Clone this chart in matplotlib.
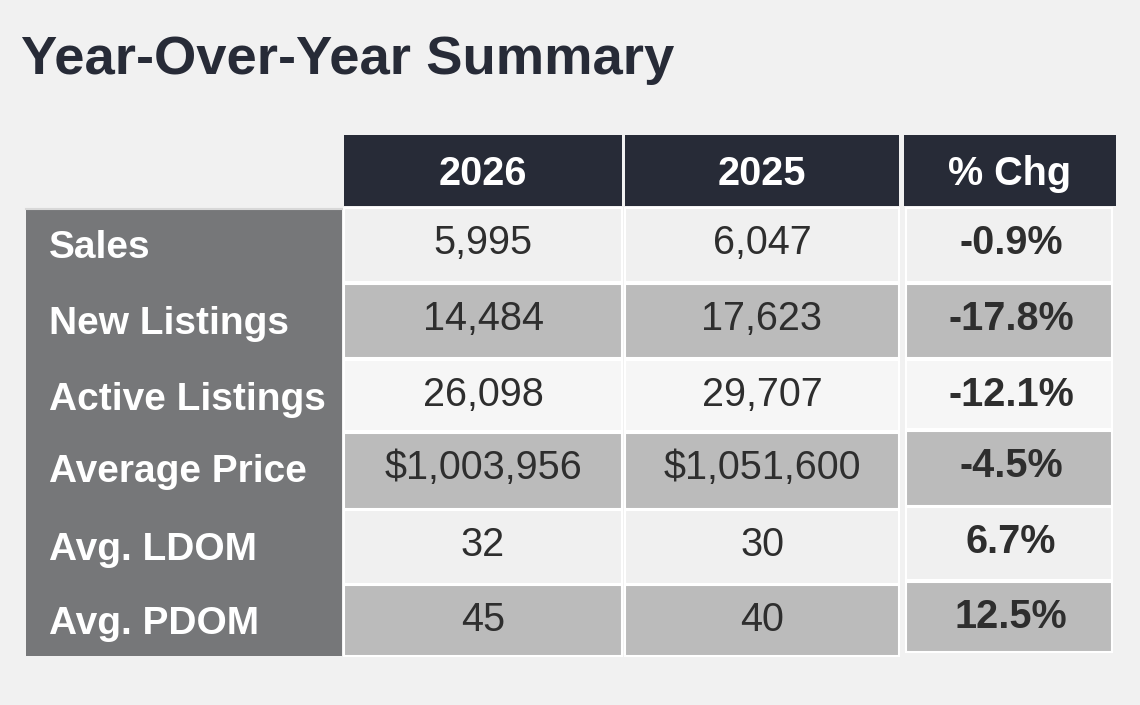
import matplotlib.pyplot as plt
from matplotlib.patches import Rectangle

plt.rcParams['font.family'] = ['Liberation Sans', 'DejaVu Sans']

title = "Year-Over-Year Summary"
col_headers = ["2026", "2025", "% Chg"]
row_labels = ["Sales", "New Listings", "Active Listings",
              "Average Price", "Avg. LDOM", "Avg. PDOM"]
values_2026 = ["5,995", "14,484", "26,098", "$1,003,956", "32", "45"]
values_2025 = ["6,047", "17,623", "29,707", "$1,051,600", "30", "40"]
pct_chg = ["-0.9%", "-17.8%", "-12.1%", "-4.5%", "6.7%", "12.5%"]

# layout in pixels (y grows downward)
bg = '#f1f1f1'
navy = '#272b37'
label_grey = '#767779'
light = '#f0f0f0'
dark = '#bbbbbb'
txt = '#2e2e2e'

col_x = [(344, 622), (625, 899), (904, 1116)]
row_top = [208, 284, 360, 433, 510, 585]
row_bot = [282, 358, 431, 509, 584, 656]
# the % Chg column sits a few pixels higher in the lower rows
row_top3 = [208, 284, 360, 431, 507, 582]
row_bot3 = [282, 358, 429, 506, 580, 652]

fig = plt.figure(figsize=(11.4, 7.05), dpi=100, facecolor=bg)
ax = fig.add_axes([0, 0, 1, 1])
ax.set_xlim(0, 1140)
ax.set_ylim(705, 0)
ax.axis('off')
ax.set_facecolor(bg)

ax.text(21, 74, title, fontsize=39.2, fontweight='bold', color=navy,
        ha='left', va='baseline')

# header
for (x0, x1), h in zip(col_x, col_headers):
    ax.add_patch(Rectangle((x0, 135), x1 - x0, 71, facecolor=navy, edgecolor='none'))
    ax.text((x0 + x1) / 2, 185, h, fontsize=28.5, fontweight='bold', color='white',
            ha='center', va='baseline')

# label column
ax.add_patch(Rectangle((26, 208), 316, 448, facecolor=label_grey, edgecolor='none'))
ax.plot([26, 342], [208.5, 208.5], color='#d8d8d8', lw=1.5)
for i, lab in enumerate(row_labels):
    ax.text(49, row_top[i] + 49.5, lab, fontsize=28, fontweight='bold', color='white',
            ha='left', va='baseline')

# data cells
for i in range(len(row_labels)):
    fc = light if i % 2 == 0 else dark
    if i == 2:
        fc = '#f6f6f6'
    for j, vals in enumerate([values_2026, values_2025]):
        x0, x1 = col_x[j]
        ax.add_patch(Rectangle((x0, row_top[i]), x1 - x0, row_bot[i] - row_top[i],
                               facecolor=fc, edgecolor='white', lw=1.5))
        ax.text((x0 + x1) / 2, row_top[i] + 46, vals[i],
                fontsize=28.5, color=txt, ha='center', va='baseline')
    x0, x1 = 906, 1112
    ax.add_patch(Rectangle((x0, row_top3[i]), x1 - x0, row_bot3[i] - row_top3[i],
                           facecolor=fc, edgecolor='white', lw=1.5))
    ax.text((x0 + x1) / 2 + 2, row_top3[i] + 46, pct_chg[i],
            fontsize=28.5, fontweight='bold', color=txt, ha='center', va='baseline')

fig.savefig('out.png', dpi=100, facecolor=bg)
